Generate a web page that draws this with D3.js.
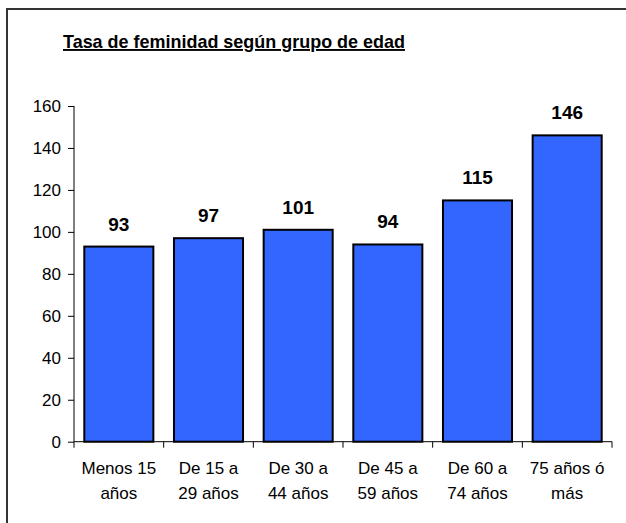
<!DOCTYPE html>
<html>
<head>
<meta charset="utf-8">
<script src="https://cdn.jsdelivr.net/npm/d3@7"></script>
<style>
  body { margin: 0; background: #fff; }
  text { font-family: "Liberation Sans", Arial, sans-serif; fill: #000; }
</style>
</head>
<body>
<div id="chart"></div>
<script>
// Tasa de feminidad - bar chart

const width = 626;
const height = 523;
const margin = {left: 74, right: 14, top: 106, bottom: 82};

const groups = ["Menos 15|años", "De 15 a|29 años", "De 30 a|44 años", "De 45 a|59 años", "De 60 a|74 años", "75 años ó|más"];
const rates = [93, 97, 101, 94, 115, 146];
const yTicks = [0, 20, 40, 60, 80, 100, 120, 140, 160];

const svg = d3.select("#chart")
  .append("svg")
  .attr("width", width)
  .attr("height", height);

// frame (only top + left visible in original)
svg.append("path")
  .attr("d", "M7,523 V9 H626")
  .attr("fill", "none")
  .attr("stroke", "#333")
  .attr("stroke-width", 2);

// title
svg.append("text")
  .attr("x", 63)
  .attr("y", 48)
  .attr("font-size", "19px")
  .attr("font-weight", "bold")
  .attr("text-decoration", "underline")
  .attr("textLength", 342)
  .attr("lengthAdjust", "spacingAndGlyphs")
  .text("Tasa de feminidad según grupo de edad");

const x = d3.scaleBand()
  .domain(d3.range(groups.length))
  .range([margin.left, width - margin.right])
  .paddingInner(0.23)
  .paddingOuter(0.115);

const y = d3.scaleLinear()
  .domain([0, 160])
  .range([height - margin.bottom + 0.7, margin.top]);

// y axis
const yAxis = svg.append("g")
  .attr("transform", `translate(${margin.left},0)`)
  .call(d3.axisLeft(y).tickValues(yTicks).tickSize(6).tickPadding(7));
yAxis.selectAll("text").attr("font-size", "17px").style("font-family", "'Liberation Sans', Arial, sans-serif");
yAxis.select(".domain").attr("d", `M0,${y(160)}V${y(0)}`);

// bars
svg.selectAll(".bar")
  .data(rates)
  .enter()
  .append("rect")
    .attr("class", "bar")
    .attr("x", (d, i) => x(i))
    .attr("y", d => y(d))
    .attr("width", x.bandwidth())
    .attr("height", d => y(0) - y(d))
    .attr("fill", "#3366ff")
    .attr("stroke", "#000")
    .attr("stroke-width", 2);

// value labels
svg.selectAll(".val")
  .data(rates)
  .enter()
  .append("text")
    .attr("class", "val")
    .attr("x", (d, i) => x(i) + x.bandwidth() / 2)
    .attr("y", d => y(d) - 16)
    .attr("text-anchor", "middle")
    .attr("font-size", "19px")
    .attr("font-weight", "bold")
    .text(d => d);

// x axis line + ticks at category boundaries
const x0 = y(0);
svg.append("line")
  .attr("x1", margin.left).attr("x2", width - margin.right)
  .attr("y1", x0).attr("y2", x0)
  .attr("stroke", "#000");

const step = x.step();
svg.selectAll(".xtick")
  .data(d3.range(groups.length + 1))
  .enter()
  .append("line")
    .attr("class", "xtick")
    .attr("x1", i => margin.left + i * step)
    .attr("x2", i => margin.left + i * step)
    .attr("y1", x0).attr("y2", x0 + 6)
    .attr("stroke", "#000");

// x labels, two lines
const lab = svg.selectAll(".xlab")
  .data(groups)
  .enter()
  .append("text")
    .attr("class", "xlab")
    .attr("text-anchor", "middle")
    .attr("font-size", "17px")
    .attr("x", (d, i) => x(i) + x.bandwidth() / 2)
    .attr("y", 474);

lab.each(function(d, i) {
  const parts = d.split("|");
  const t = d3.select(this);
  parts.forEach((p, j) => {
    t.append("tspan")
      .attr("x", x(i) + x.bandwidth() / 2)
      .attr("dy", j === 0 ? 0 : 25)
      .text(p);
  });
});
</script>
</body>
</html>
